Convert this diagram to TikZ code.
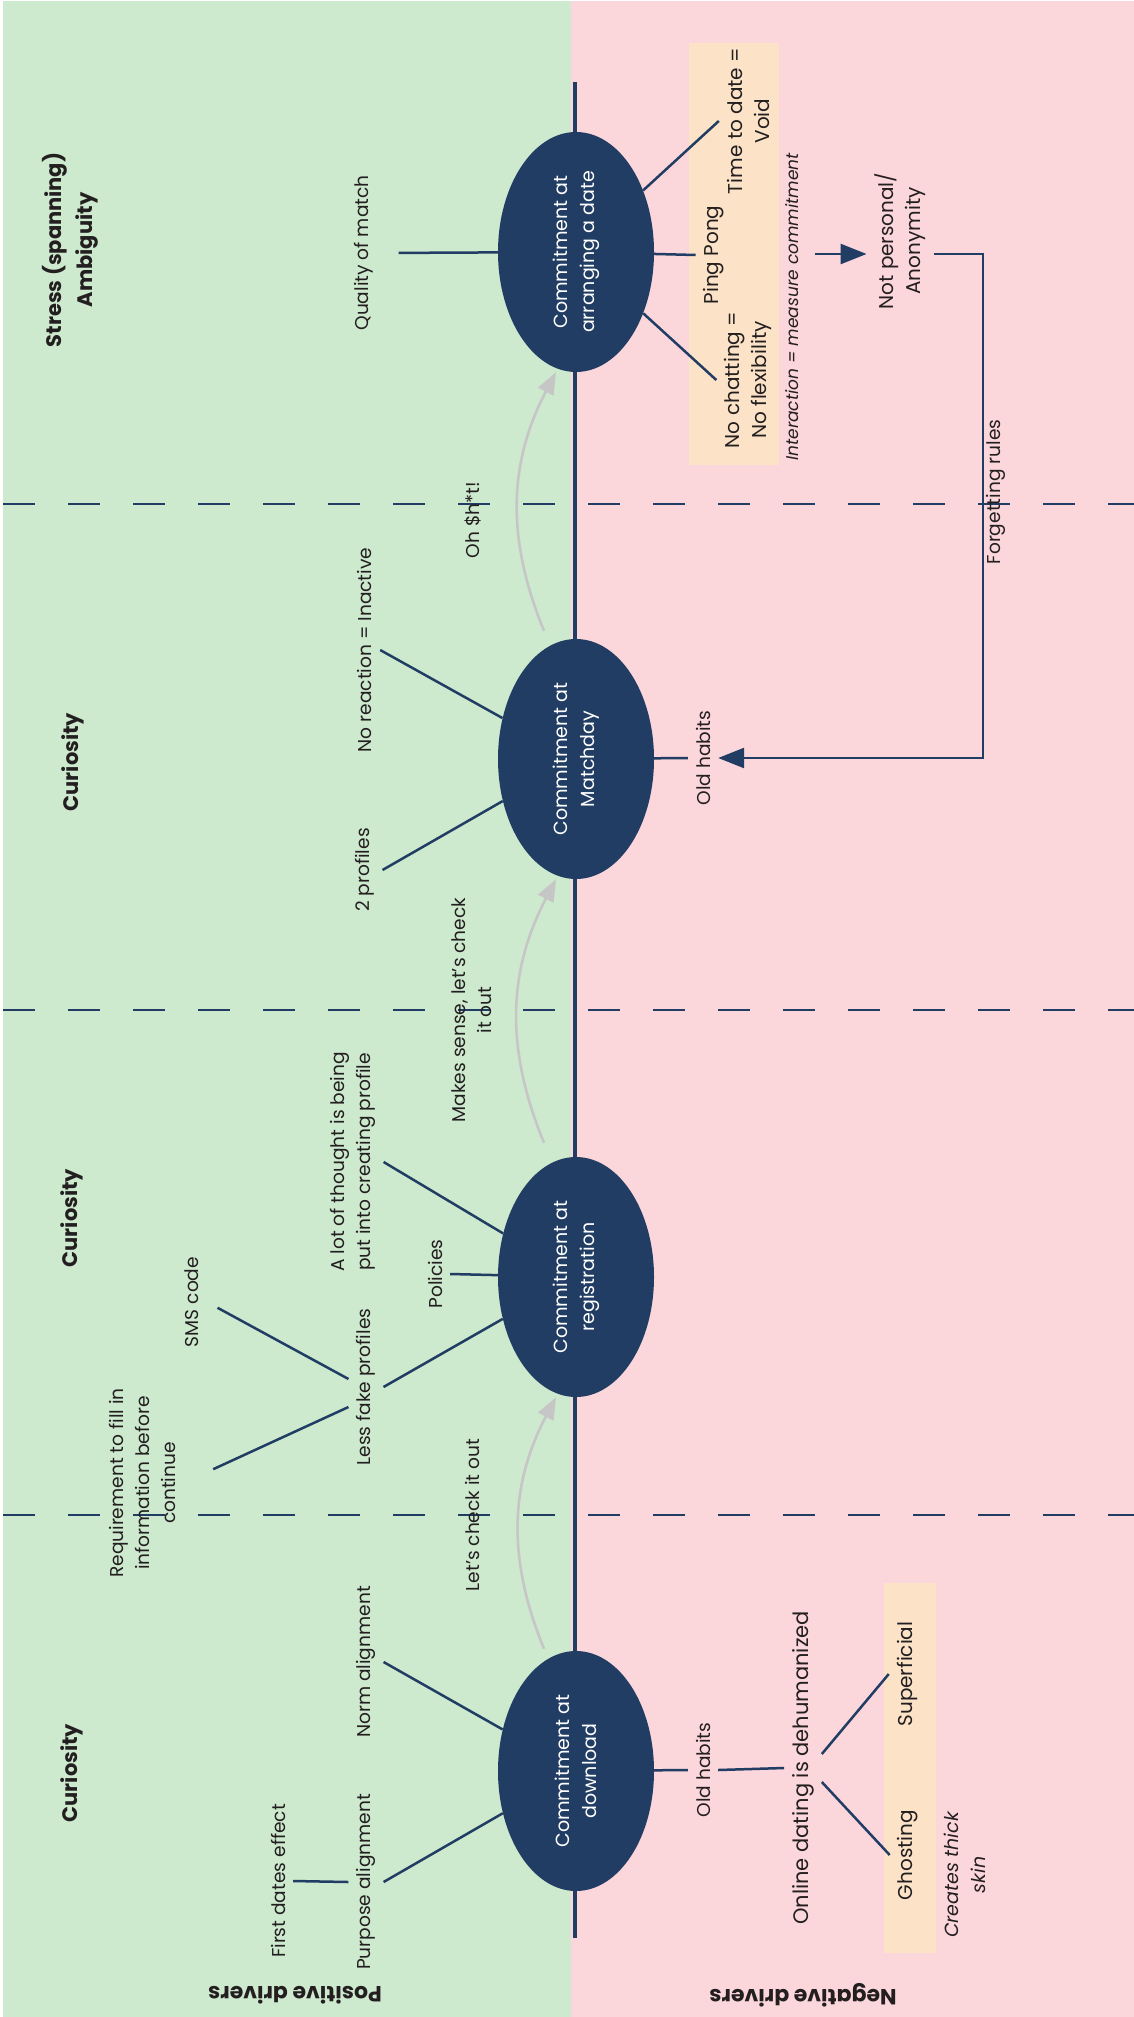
\documentclass[tikz,border=0pt]{standalone}
\usepackage{fontspec}
\setmainfont{Poppins}
\usetikzlibrary{shapes.geometric,arrows.meta,calc}
\definecolor{bggreen}{HTML}{CDE9CE}
\definecolor{bgpink}{HTML}{FBD6DB}
\definecolor{peach}{HTML}{FCE3C8}
\definecolor{navy}{HTML}{223D63}
\definecolor{ink}{HTML}{231F20}
\definecolor{arrowgray}{HTML}{C6C6C6}
\begin{document}
\begin{tikzpicture}[x=1pt,y=-1pt,
  lbl/.style={rotate=90,align=center,text=ink,font=\fontsize{18.6}{26}\selectfont,inner sep=2pt,outer sep=6pt},
  midlbl/.style={lbl,font=\fontsize{20}{27}\selectfont},
  biglbl/.style={lbl,font=\fontsize{21}{28}\selectfont},
  note/.style={lbl,font=\itshape\fontsize{17}{26}\selectfont},
  bignote/.style={lbl,font=\itshape\fontsize{19}{27}\selectfont},
  hdr/.style={rotate=90,align=center,text=ink,font=\bfseries\fontsize{21}{31}\selectfont},
  side/.style={rotate=180,text=ink,font=\bfseries\fontsize{22}{26}\selectfont},
  stage/.style={ellipse,rotate=90,fill=navy,text=white,minimum width=240pt,minimum height=156pt,inner sep=0pt,align=center,font=\fontsize{19}{27}\selectfont},
  link/.style={draw=navy,line width=2.5pt},
  push/.style={link,-{Triangle[length=26pt,width=20pt]}},
  flow/.style={draw=arrowgray,line width=2.6pt,-{Triangle[length=22pt,width=17pt]}},
  dashline/.style={draw=navy,line width=1.3pt,dash pattern=on 32pt off 33pt},
  box/.style={fill=peach,draw=none,inner sep=0pt}]

\useasboundingbox (0,0) rectangle (1134,2017);
% backgrounds: positive (left) and negative (right) halves
\fill[white] (0,0) rectangle (1134,2017);
\fill[bggreen] (3,1) rectangle (571,2017);
\fill[bgpink] (571,1) rectangle (1134,2017);

% stage separators
\draw[dashline] (3,504) -- (1134,504);
\draw[dashline] (3,1010) -- (1134,1010);
\draw[dashline] (3,1515) -- (1134,1515);

% highlighted groups
\node[box,minimum width=90pt,minimum height=422pt] (box1) at (734,254) {};
\node[box,minimum width=52pt,minimum height=370pt] (box4) at (910,1768) {};

% timeline
\coordinate (tltop) at (575,82);
\coordinate (tlbot) at (575,1938);
\draw[navy,line width=4pt] (tltop) -- (tlbot);

% commitment stages
\node[stage] (e1) at (576,252) {Commitment at\\arranging a date};
\node[stage] (e2) at (576,759) {Commitment at\\Matchday};
\node[stage] (e3) at (576,1277) {Commitment at\\registration};
\node[stage] (e4) at (576,1771) {Commitment at\\download};

% stage headers
\node[hdr] (h1) at (70,250) {Stress (spanning)\\Ambiguity};
\node[hdr] (h2) at (73,762) {Curiosity};
\node[hdr] (h3) at (72,1218) {Curiosity};
\node[hdr] (h4) at (72,1773) {Curiosity};

% positive drivers
\node[lbl] (qm) at (364,253) {Quality of match};
\node[lbl] (nr) at (365,650) {No reaction = Inactive};
\node[lbl] (tp) at (365,870) {2 profiles};
\node[lbl] (lot) at (353,1162) {A lot of thought is being\\put into creating profile};
\node[lbl] (pol) at (435,1274) {Policies};
\node[lbl] (lfp) at (366,1387) {Less fake profiles};
\node[lbl] (sms) at (192,1302) {SMS code};
\node[lbl] (req) at (142,1483) {Requirement to fill in\\information before\\continue};
\node[lbl] (na) at (366,1662) {Norm alignment};
\node[lbl] (pa) at (366,1882) {Purpose alignment};
\node[lbl] (fde) at (278,1881) {First dates effect};

% transitions between stages
\node[lbl] (f1) at (472,1515) {Let's check it out};
\node[lbl] (f2) at (472,1010) {Makes sense, let's check\\it out};
\node[lbl] (f3) at (473,520) {Oh \$h*t!};

% negative drivers
\node[midlbl] (pp) at (714,255) {Ping Pong};
\node[midlbl] (t2d) at (748,121) {Time to date =\\Void};
\node[midlbl] (nc) at (748,380) {No chatting =\\No flexibility};
\node[note] (inter) at (792,307) {Interaction = measure commitment};
\node[midlbl] (np) at (900,241) {Not personal/\\Anonymity};
\node[lbl] (fr) at (996,492) {Forgetting rules};
\node[lbl] (oh2) at (703,758) {Old habits};
\node[lbl] (oh4) at (703,1770) {Old habits};
\node[biglbl] (odd) at (803,1768) {Online dating is dehumanized};
\node[midlbl] (sup) at (907,1674) {Superficial};
\node[midlbl] (gho) at (908,1855) {Ghosting};
\node[bignote] (cts) at (965,1875) {Creates thick\\skin};

% side titles
\node[side] (posd) at (295,1995) {Positive drivers};
\node[side] (negd) at (803,1995) {Negative drivers};

% positive links
\draw[link,shorten <=17pt] (qm.south) -- (e1);
\draw[link] (nr.south) -- (e2);
\draw[link] (tp.south) -- (e2);
\draw[link] (lot.south) -- (e3);
\draw[link] (pol.south) -- (e3);
\draw[link] (lfp.south) -- (e3);
\draw[link,shorten <=12pt] (sms.south) -- ([yshift=8pt]lfp.north);
\draw[link,shorten <=33pt] (req.south) -- ([yshift=-20pt]lfp.north);
\draw[link] (na.south) -- (e4);
\draw[link] (pa.south) -- (e4);
\draw[link] (fde.south) -- (pa.north);

% transitions
\draw[flow] ([xshift=-32pt,yshift=2pt]e4.east) to[bend left=25] ([xshift=-20pt]e3.west);
\draw[flow] ([xshift=-32pt,yshift=14pt]e3.east) to[bend left=25] ([xshift=-20pt]e2.west);
\draw[flow] ([xshift=-32pt,yshift=8pt]e2.east) to[bend left=25] ([xshift=-20pt]e1.west);

% negative links
\draw[link] (e1) -- (pp.north);
\draw[link] (e1) -- (t2d.north);
\draw[link] (e1) -- (nc.north);
\coordinate (a1) at (815,254);
\draw[push] (a1) -- (a1 -| np.north);
\coordinate (fx) at (983,500);
\draw[push] (np.south |- a1) -| (fx) |- (oh2.south);
\draw[link] (e2) -- (oh2.north);
\draw[link] (e4) -- (oh4.north);
\draw[link] (oh4.south) -- (odd.north);
\draw[link] ([yshift=14pt]odd.south) -- (sup.north);
\draw[link] ([yshift=-14pt]odd.south) -- (gho.north);
\end{tikzpicture}
\end{document}
